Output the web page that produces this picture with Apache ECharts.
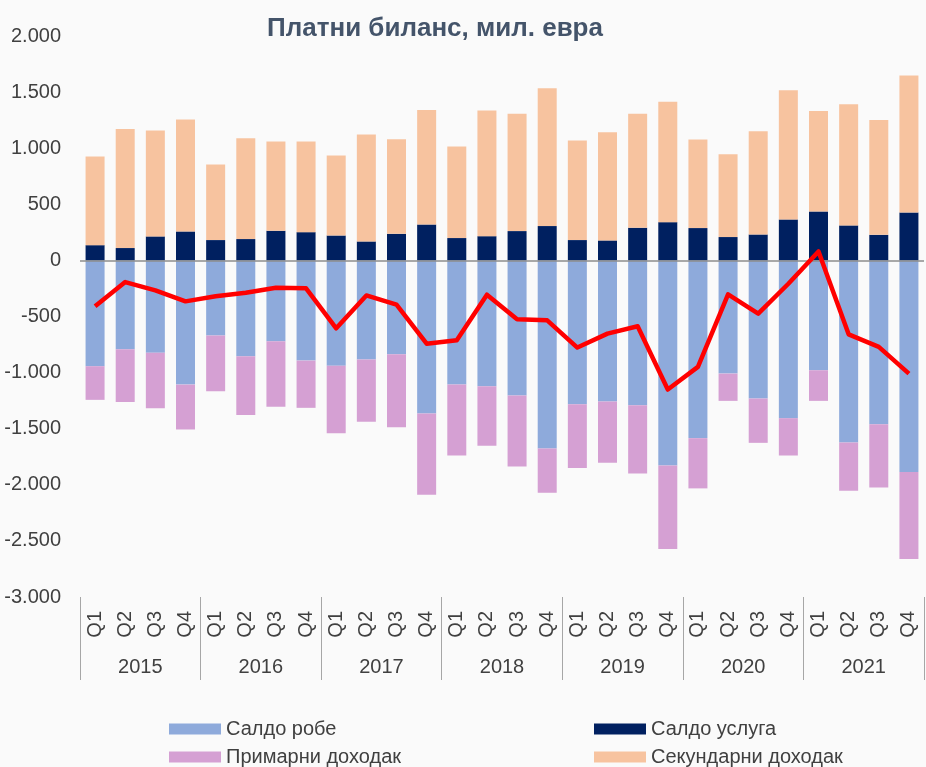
<!DOCTYPE html>
<html>
<head>
<meta charset="utf-8">
<script src="https://cdn.jsdelivr.net/npm/echarts@6/dist/echarts.min.js"></script>
<style>
html,body{margin:0;padding:0;background:#fafafa;}
#chart{width:926px;height:767px;}
</style>
</head>
<body>
<div id="chart"></div>
<script>
// квартали и године
const quarters = ['Q1','Q2','Q3','Q4'];
const years = ['2015','2016','2017','2018','2019','2020','2021'];
const categories = [];
years.forEach(y => quarters.forEach(q => categories.push(q)));

// мил. евра, очитано са графика
const goods = [
  -943, -792, -822, -1107,
  -670, -854, -721, -893,
  -938, -884, -837, -1365,
  -1107, -1121, -1204, -1676,
  -1282, -1258, -1290, -1828,
  -1584, -1009, -1231, -1406,
  -979, -1623, -1460, -1887
];
const services = [
  136, 110, 214, 258,
  181, 190, 264, 252,
  222, 169, 237, 320,
  199, 216, 261, 306,
  181, 178, 291, 341,
  288, 208, 231, 365,
  436, 312, 228, 427
];
const primaryIncome = [
  -300, -469, -495, -400,
  -496, -523, -584, -421,
  -602, -555, -649, -724,
  -632, -531, -632, -395,
  -569, -546, -609, -744,
  -448, -243, -395, -333,
  -273, -430, -563, -774
];
const secondaryIncome = [
  790, 1062, 943, 997,
  673, 899, 795, 807,
  712, 952, 843, 1021,
  816, 1119, 1045, 1228,
  887, 964, 1015, 1074,
  789, 738, 920, 1151,
  896, 1079, 1024, 1220
];
const currentAccount = [
  -409, -193, -267, -365,
  -320, -288, -243, -249,
  -605, -312, -395, -742,
  -712, -306, -525, -534,
  -777, -653, -587, -1151,
  -949, -303, -475, -208,
  80, -659, -771, -1009
];

const font = '"Liberation Sans", Arial, sans-serif';
const textColor = '#404040';

// једна ставка легенде по компоненти, да би распоред био 2x2
const legendItem = (name, left, top) => ({
  left: left,
  top: top,
  icon: 'rect',
  itemWidth: 52,
  itemHeight: 11,
  textStyle: { fontSize: 20, color: textColor },
  data: [name]
});

var chart = echarts.init(document.getElementById('chart'));

var option = {
  backgroundColor: '#fafafa',
  animation: false,
  textStyle: { fontFamily: font },
  title: {
    text: 'Платни биланс, мил. евра',
    left: 430,
    textAlign: 'center',
    top: 11,
    textStyle: { fontSize: 26, fontWeight: 'bold', color: '#44546A', fontFamily: font }
  },
  legend: [
    legendItem('Салдо робе', 164, 714),
    legendItem('Примарни доходак', 164, 742),
    legendItem('Салдо услуга', 589, 714),
    legendItem('Секундарни доходак', 589, 742)
  ],
  grid: {
    left: 80,
    right: 2,
    top: 36,
    bottom: 170,
    containLabel: false
  },
  xAxis: [
    {
      type: 'category',
      data: categories,
      position: 'bottom',
      axisLine: { show: false, onZero: false },
      axisTick: { show: false },
      axisLabel: {
        rotate: 90,
        interval: 0,
        margin: 14,
        fontSize: 20,
        color: textColor
      }
    },
    {
      type: 'category',
      data: years,
      position: 'bottom',
      axisLine: { show: false, onZero: false },
      axisTick: {
        show: true,
        length: 83,
        interval: 0,
        lineStyle: { color: '#a6a6a6', width: 1 }
      },
      axisLabel: {
        interval: 0,
        margin: 60,
        fontSize: 20,
        color: textColor
      }
    }
  ],
  yAxis: {
    type: 'value',
    min: -3000,
    max: 2000,
    interval: 500,
    axisLine: { show: false },
    axisTick: { show: false },
    splitLine: { show: false },
    axisLabel: {
      margin: 19,
      fontSize: 20,
      color: textColor,
      formatter: v => {
        const s = Math.abs(v).toString().replace(/\B(?=(\d{3})+(?!\d))/g, '.');
        return (v < 0 ? '-' : '') + s;
      }
    }
  },
  series: [
    {
      name: 'Салдо робе',
      type: 'bar',
      stack: 'total',
      barWidth: 19,
      data: goods,
      itemStyle: { color: '#8EAADB' }
    },
    {
      name: 'Примарни доходак',
      type: 'bar',
      stack: 'total',
      barWidth: 19,
      data: primaryIncome,
      itemStyle: { color: '#D5A0D3' }
    },
    {
      name: 'Салдо услуга',
      type: 'bar',
      stack: 'total',
      barWidth: 19,
      data: services,
      itemStyle: { color: '#002060' }
    },
    {
      name: 'Секундарни доходак',
      type: 'bar',
      stack: 'total',
      barWidth: 19,
      data: secondaryIncome,
      itemStyle: { color: '#F7C39F' },
      markLine: {
        silent: true,
        symbol: 'none',
        label: { show: false },
        lineStyle: { color: '#8c8c8c', type: 'solid', width: 1.5 },
        data: [{ yAxis: 0 }]
      }
    },
    {
      name: 'Текући рачун',
      type: 'line',
      data: currentAccount,
      showSymbol: false,
      symbol: 'none',
      z: 5,
      lineStyle: { color: '#FF0000', width: 4.5, join: 'round' },
      itemStyle: { color: '#FF0000' }
    }
  ]
};

chart.setOption(option);
</script>
</body>
</html>
